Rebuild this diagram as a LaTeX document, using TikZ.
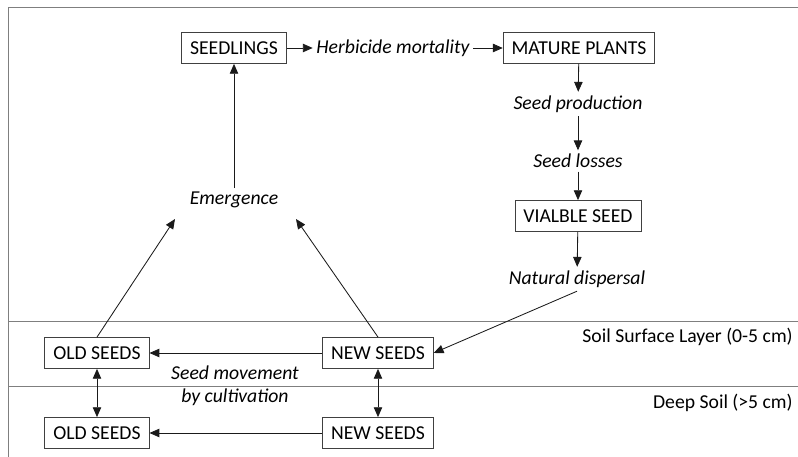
\documentclass[tikz,border=0pt]{standalone}
\usepackage{fontspec}
\setmainfont{Carlito}
\usetikzlibrary{arrows.meta}
\definecolor{framegray}{HTML}{7F7F7F}
\definecolor{boxgray}{HTML}{404040}
\definecolor{inkblack}{HTML}{1A1A1A}
\tikzset{
  stagebox/.style={draw=boxgray, line width=0.6pt, inner xsep=6pt, minimum height=22pt, font=\fontsize{14}{16.3}\selectfont},
  proclabel/.style={inner sep=2.5pt, font=\fontsize{14}{16.3}\selectfont\itshape, align=center},
  layerlabel/.style={anchor=east, inner sep=0pt, font=\fontsize{14}{16.3}\selectfont},
  flow/.style={draw=inkblack, line width=0.6pt, -{Triangle[length=7pt,width=6pt]}},
  twoway/.style={draw=inkblack, line width=0.6pt, {Triangle[length=7pt,width=6pt]}-{Triangle[length=7pt,width=6pt]}},
  layerline/.style={draw=framegray, line width=0.6pt}
}

\begin{document}
\begin{tikzpicture}[x=0.025cm, y=-0.025cm]
  \useasboundingbox (0,0) rectangle (798,457);
  % Marco y capas de suelo
  \draw[layerline] (798,7) -- (8,7) -- (8,457);
  \draw[layerline] (8,321) -- (798,321);
  \draw[layerline] (8,386) -- (798,386);
  \node[layerlabel] (surf) at (793,337) {Soil Surface Layer (0-5 cm)};
  \node[layerlabel] (deep) at (793,403) {Deep Soil (>5 cm)};
  % Ciclo sobre el suelo
  \node[stagebox] (seedl) at (234,48) {SEEDLINGS};
  \node[proclabel] (herb) at (393,48) {Herbicide mortality};
  \node[stagebox] (mature) at (579,48) {MATURE PLANTS};
  \node[proclabel] (prod) at (578,104) {Seed production};
  \node[proclabel] (loss) at (578,161) {Seed losses};
  \node[stagebox] (viable) at (578,216) {VIALBLE SEED};
  \node[proclabel] (disp) at (577,279) {Natural dispersal};
  \node[proclabel] (emerg) at (234,200) {Emergence};
  \coordinate (emL) at (175,219);
  \coordinate (emR) at (296,219);
  % Banco de semillas
  \node[stagebox] (oldT) at (97,353) {OLD SEEDS};
  \node[stagebox] (newT) at (378,353) {NEW SEEDS};
  \node[stagebox] (oldB) at (97,433) {OLD SEEDS};
  \node[stagebox] (newB) at (378,433) {NEW SEEDS};
  \node[proclabel] (move) at (235,386) {Seed movement\\by cultivation};
  % Flechas
  \draw[flow] (seedl) -- (herb);
  \draw[flow] (herb) -- (mature);
  \draw[flow] (mature) -- (prod);
  \draw[flow] (prod) -- (loss);
  \draw[flow] (loss) -- (viable);
  \draw[flow] (viable) -- (disp);
  \draw[flow] (disp.south) -- (newT.east);
  \draw[flow] (newT) -- (oldT);
  \draw[flow] (newB) -- (oldB);
  \draw[twoway] (oldT) -- (oldB);
  \draw[twoway] (newT) -- (newB);
  \draw[flow] (oldT.north) -- (emL);
  \draw[flow] (newT.north) -- (emR);
  \draw[flow] (emerg) -- (seedl);
\end{tikzpicture}
\end{document}
